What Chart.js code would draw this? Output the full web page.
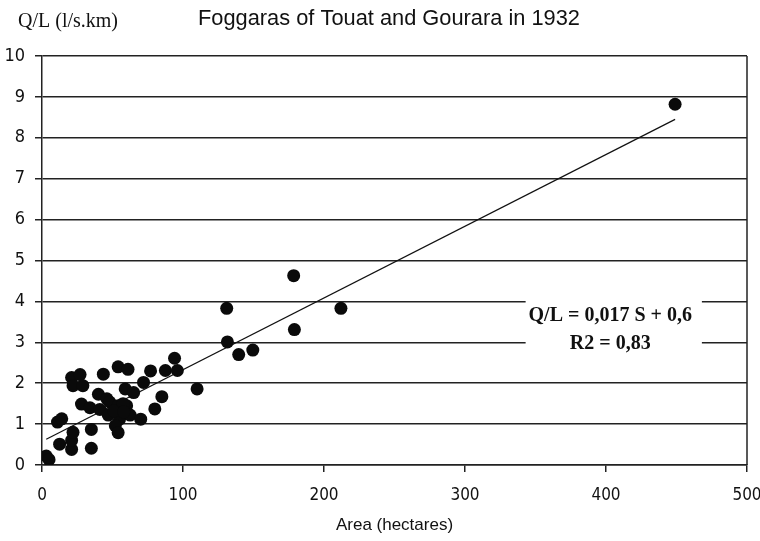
<!DOCTYPE html>
<html>
<head>
<meta charset="utf-8">
<title>Foggaras of Touat and Gourara in 1932</title>
<script src="https://cdn.jsdelivr.net/npm/chart.js@4.4.1/dist/chart.umd.min.js"></script>
<style>
  html, body { margin: 0; padding: 0; background: #fff; }
  canvas { display: block; }
</style>
</head>
<body>
<canvas id="foggaraChart" width="760" height="541"></canvas>
<script>
// Foggaras in 1932: irrigated area vs flow per km of gallery
const areaHectares = [
    3, 5, 11, 14, 12.5, 21, 21, 22, 35, 35,
    21, 27, 22, 29, 43.5, 40, 28, 34, 41, 54,
    61, 77, 87.5, 96, 94, 72, 59, 65, 85, 80,
    110, 46, 48, 54, 60, 47, 55, 62.5, 70, 52,
    54, 57.5, 51, 58, 178.5, 131, 212, 179, 131.5, 139.5,
    149.5, 449
];
const flowPerKm = [
    0.22, 0.13, 1.05, 1.13, 0.51, 0.38, 0.60, 0.80, 0.87, 0.41,
    2.14, 2.21, 1.94, 1.94, 2.22, 1.73, 1.49, 1.40, 1.36, 2.40,
    2.34, 2.30, 2.31, 2.31, 2.61, 2.02, 1.86, 1.77, 1.67, 1.37,
    1.86, 1.62, 1.54, 1.45, 1.45, 1.22, 1.12, 1.22, 1.12, 0.96,
    0.79, 1.50, 1.32, 1.30, 4.63, 3.83, 3.83, 3.31, 3.01, 2.70,
    2.81, 8.82
];

// ends of the regression line as drawn
const trendArea = [3, 449];
const trendFlow = [0.63, 8.45];

const xTickValues = [0, 100, 200, 300, 400, 500];
const yTickValues = [0, 1, 2, 3, 4, 5, 6, 7, 8, 9, 10];

const chartTitle = 'Foggaras of Touat and Gourara in 1932';
const yAxisTitle = 'Q/L (l/s.km)';
const xAxisTitle = 'Area (hectares)';
const equationLines = ['Q/L = 0,017 S + 0,6', 'R2 = 0,83'];

const NARROW = '"Liberation Sans Narrow", "DejaVu Sans Condensed", Arial, sans-serif';
const SANS = '"Liberation Sans", Arial, sans-serif';
const SERIF = '"Liberation Serif", "Times New Roman", serif';

Chart.defaults.font.family = NARROW;
Chart.defaults.color = '#111';

// titles, right frame and the equation box
const decorations = {
    id: 'decorations',
    beforeDatasetsDraw(chart) {
        const { ctx, chartArea } = chart;
        ctx.save();
        ctx.strokeStyle = '#222';
        ctx.lineWidth = 1.5;
        ctx.beginPath();
        ctx.moveTo(chartArea.right, chartArea.top);
        ctx.lineTo(chartArea.right, chartArea.bottom);
        ctx.stroke();
        ctx.restore();
    },
    afterDatasetsDraw(chart) {
        const { ctx } = chart;
        const x = chart.scales.x;
        const y = chart.scales.y;
        ctx.save();

        // white box over the gridlines
        const left = x.getPixelForValue(343);
        const right = x.getPixelForValue(468);
        const top = y.getPixelForValue(4.12);
        const bottom = y.getPixelForValue(2.55);
        ctx.fillStyle = '#fff';
        ctx.fillRect(left, top, right - left, bottom - top);

        ctx.fillStyle = '#111';
        ctx.textAlign = 'center';
        ctx.textBaseline = 'middle';
        ctx.font = 'bold 20px ' + SERIF;
        const cx = x.getPixelForValue(403);
        ctx.fillText(equationLines[0], cx, y.getPixelForValue(3.65));
        ctx.fillText(equationLines[1], cx, y.getPixelForValue(2.96));

        // chart title and y axis title
        ctx.font = '22px ' + SANS;
        ctx.fillText(chartTitle, 389, 19, 382);
        ctx.font = '20px ' + SERIF;
        ctx.textAlign = 'left';
        ctx.fillText(yAxisTitle, 18, 22);
        ctx.restore();
    }
};

function initializeChart() {
    const ctx = document.getElementById('foggaraChart').getContext('2d');

    const points = areaHectares.map((a, i) => ({ x: a, y: flowPerKm[i] }));
    const trend = trendArea.map((a, i) => ({ x: a, y: trendFlow[i] }));

    new Chart(ctx, {
        type: 'scatter',
        data: {
            datasets: [{
                label: 'Foggaras',
                data: points,
                backgroundColor: '#0a0a0a',
                borderColor: '#0a0a0a',
                borderWidth: 0,
                pointRadius: 6.5,
                pointHoverRadius: 6.5
            }, {
                type: 'line',
                label: 'Trend',
                data: trend,
                borderColor: '#111',
                borderWidth: 1.2,
                pointRadius: 0,
                fill: false
            }]
        },
        options: {
            responsive: false,
            animation: false,
            layout: {
                padding: { top: 56, right: 13, bottom: 0, left: 0 }
            },
            scales: {
                x: {
                    type: 'linear',
                    min: 0,
                    max: 500,
                    afterBuildTicks: scale => {
                        scale.ticks = xTickValues.map(v => ({ value: v }));
                    },
                    afterFit: scale => {
                        scale.height = 76;
                        scale.paddingLeft = 0;
                        scale.paddingRight = 0;
                    },
                    grid: {
                        drawOnChartArea: false,
                        drawTicks: true,
                        tickLength: 7,
                        color: '#222',
                        lineWidth: 1.5
                    },
                    border: { display: true, color: '#222', width: 1.5 },
                    ticks: {
                        font: { size: 17 },
                        color: '#111',
                        padding: 13,
                        maxRotation: 0
                    },
                    title: {
                        display: true,
                        text: xAxisTitle,
                        font: { size: 17, family: SANS },
                        color: '#111',
                        padding: { top: 0, bottom: 5 }
                    }
                },
                y: {
                    type: 'linear',
                    min: 0,
                    max: 10,
                    afterBuildTicks: scale => {
                        scale.ticks = yTickValues.map(v => ({ value: v }));
                    },
                    afterFit: scale => {
                        scale.width = 42;
                    },
                    grid: {
                        drawTicks: true,
                        tickLength: 7,
                        color: '#222',
                        lineWidth: 1.5
                    },
                    border: { display: true, color: '#222', width: 1.5 },
                    ticks: {
                        font: { size: 18 },
                        color: '#111',
                        padding: 10
                    }
                }
            },
            plugins: {
                legend: { display: false },
                title: { display: false },
                tooltip: { enabled: false }
            }
        },
        plugins: [decorations]
    });
}

document.addEventListener('DOMContentLoaded', initializeChart);
</script>
</body>
</html>
